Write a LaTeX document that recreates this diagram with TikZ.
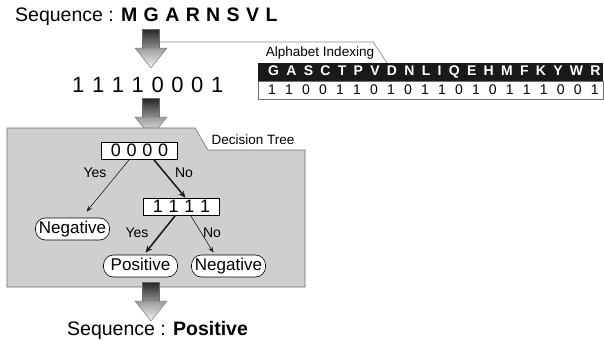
\documentclass[tikz,border=0pt]{standalone}
\usepackage{fontspec}
\setmainfont{Liberation Sans}
\usetikzlibrary{arrows.meta,calc}
\definecolor{panelfill}{HTML}{CFCFCF}
\definecolor{paneledge}{HTML}{6E6E6E}
\definecolor{linkgray}{HTML}{8C8C8C}
\definecolor{shafttop}{HTML}{262626}
\definecolor{shaftbot}{HTML}{8E8E8E}
\definecolor{headtop}{HTML}{9C9C9C}
\definecolor{headbot}{HTML}{F4F4F4}
\definecolor{arrline}{HTML}{6A6A6A}
\definecolor{edgedark}{HTML}{1E1E1E}
\newcommand{\spread}[2]{\foreach \ch [count=\kk] in {#2}{\ifnum\kk>1 \hspace{#1}\fi\ch}}

\begin{document}
\begin{tikzpicture}[x=1pt,y=-1pt,
    bigarrow/.pic={
      \shade[top color=shafttop,bottom color=shaftbot,draw=arrline,line width=0.4pt] (-8.5,0) rectangle (8.5,19);
      \shade[top color=headtop,bottom color=headbot,draw=arrline,line width=0.4pt] (-16,19) -- (16,19) -- (0,39) -- cycle;
    },
    seqtext/.style={font=\fontsize{19.5}{22}\selectfont,inner sep=0pt},
    tabtext/.style={font=\fontsize{13.5}{15}\selectfont,inner sep=0pt},
    testbox/.style={draw,fill=white,line width=0.6pt,minimum width=76pt,minimum height=17pt,inner sep=0pt,
      font=\fontsize{18}{20}\selectfont},
    leaf/.style={draw,fill=white,line width=0.6pt,rounded corners=10pt,minimum width=74pt,minimum height=22pt,
      inner sep=0pt,font=\fontsize{17}{19}\selectfont,text height=12pt,text depth=3pt},
    answer/.style={font=\fontsize{14}{16}\selectfont,inner sep=0pt},
    thinarr/.style={draw=edgedark,line width=0.6pt,-{Stealth[length=6pt,width=4.5pt]}},
    thickarr/.style={draw=edgedark,line width=1.6pt,-{Stealth[length=7pt,width=6pt]}},
    link/.style={draw=linkgray,line width=0.7pt}]
  \useasboundingbox (0,0) rectangle (604,340);

  % input sequence and its code
  \node[seqtext,anchor=base west] (seq) at (15,21) {Sequence : \textbf{\spread{6.4pt}{M,G,A,R,N,S,V,L}}};
  \pic at (151,29) {bigarrow};
  \coordinate (lk) at (159.5,42);
  \node[seqtext,font=\fontsize{22}{25}\selectfont,anchor=base west] (code) at (72,92) {\spread{7.6pt}{1,1,1,1,0,0,0,1}};
  \pic at (151,98) {bigarrow};

  % alphabet indexing table
  \fill[black!90] (258,63) rectangle (603,81);
  \draw[paneledge,line width=0.6pt] (258,81) rectangle (603,99);
  \node[font=\bfseries\fontsize{14}{16}\selectfont,text=white,inner sep=0pt,anchor=west] (hdr) at (268,72)
    {\spread{7.3pt}{G,A,S,C,T,P,V,D,N,L,I,Q,E,H,M,F,K,Y,W,R}};
  \node[font=\fontsize{14}{16}\selectfont,inner sep=0pt,anchor=west] (idx) at (268,90)
    {\spread{9.2pt}{1,1,0,0,1,1,0,1,0,1,1,0,1,0,1,1,1,0,0,1}};
  \draw[link] (lk) -- (373,42) coordinate (tabtop) -- (387,63);
  \node[tabtext] (tabname) at (320,53) {Alphabet Indexing};

  % decision tree panel
  \draw[fill=panelfill,draw=paneledge,line width=0.6pt]
    (7,128) -- (195,128) -- (208,150) -- (305,150) -- (305,287) -- (7,287) -- cycle;
  \node[tabtext] (treename) at (253,140) {Decision Tree};

  \node[testbox] (q1) at (139.5,150.5) {\spread{5.7pt}{0,0,0,0}};
  \node[testbox] (q2) at (181.5,206.5) {\spread{5.7pt}{1,1,1,1}};
  \node[leaf] (neg1) at (72.5,229) {Negative};
  \node[leaf] (pos) at (140.5,266) {Positive};
  \node[leaf] (neg2) at (228.5,266) {Negative};

  \draw[thinarr] ($(q1.south)+(-10,0)$) -- ($(neg1.north)+(14,-6)$);
  \draw[thickarr] ($(q1.south)+(14,0)$) -- ($(q2.north)+(4,0)$);
  \draw[thickarr] ($(q2.south)+(-6,0)$) -- ($(pos.north)+(5,-2)$);
  \draw[thinarr] ($(q2.south)+(9,0)$) -- ($(neg2.north)+(-15,-2)$);
  \node[answer] (yes1) at (95,173) {Yes};
  \node[answer] (no1) at (184,173) {No};
  \node[answer] (yes2) at (137,233) {Yes};
  \node[answer] (no2) at (212,233) {No};

  % result
  \pic at (151,282) {bigarrow};
  \node[seqtext,anchor=base west] (res) at (67,335) {Sequence : \textbf{Positive}};
\end{tikzpicture}
\end{document}
